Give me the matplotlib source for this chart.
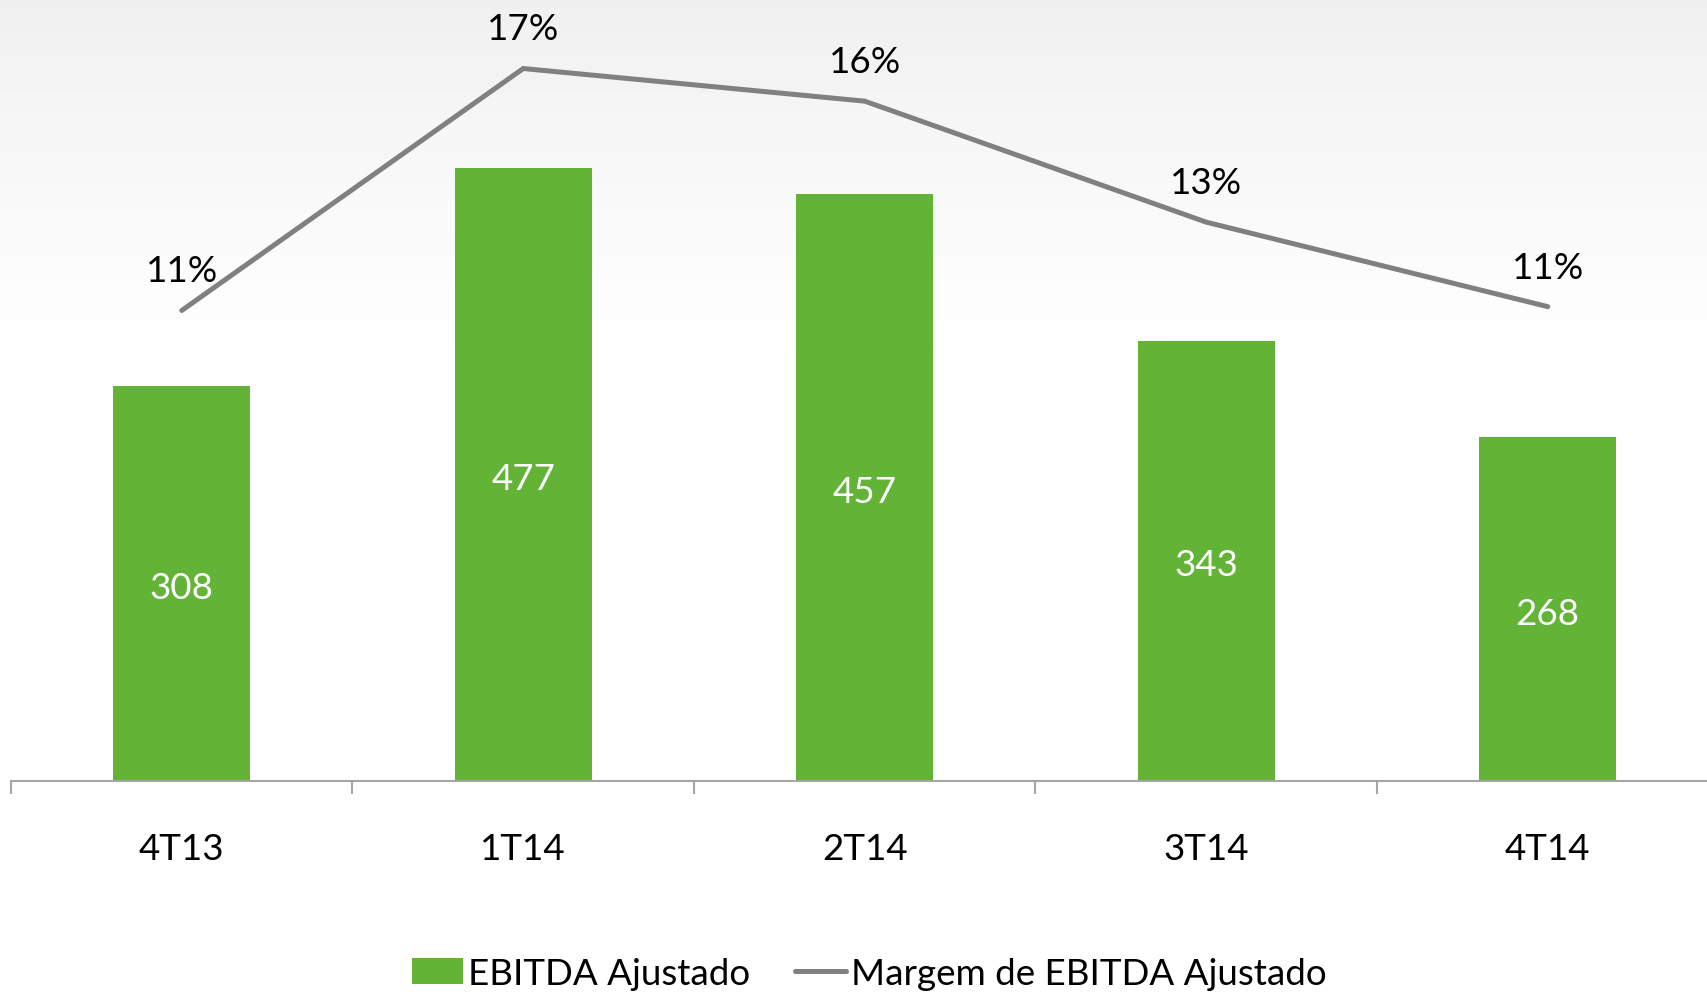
import matplotlib.pyplot as plt
import numpy as np

plt.rcParams['font.family'] = ['Lato', 'DejaVu Sans']

categorias = ["4T13", "1T14", "2T14", "3T14", "4T14"]
ebitda = [308, 477, 457, 343, 268]
margem = [10.7, 17.0, 16.15, 13.0, 10.8]
margem_txt = ["11%", "17%", "16%", "13%", "11%"]

verde = '#62B336'
cinza = '#808080'
fs = 26.5

fig = plt.figure(figsize=(17.08, 9.95), dpi=100)

# fundo com degradê cinza claro no topo
bg = fig.add_axes([0, 0, 1, 1], zorder=-10)
grad = np.ones((200, 1))
yy = np.linspace(0, 1, 200)
grad[:, 0] = 1 - 0.06 * np.clip(1 - (1 - yy) / 0.4, 0, 1) ** 1.3
bg.imshow(grad, cmap='gray', vmin=0, vmax=1, aspect='auto', extent=[0, 1, 0, 1], origin='lower')
bg.axis('off')

ax = fig.add_axes([11 / 1708, 213 / 995, 1707.5 / 1708, 782 / 995])
ax.set_facecolor('none')
x = np.arange(len(categorias))
barras = ax.bar(x, ebitda, width=0.4, color=verde, label='EBITDA Ajustado', zorder=2)
for xi, v in zip(x, ebitda):
    ax.annotate(str(v), (xi, v / 2), xytext=(0, -3), textcoords='offset points',
                ha='center', va='center', color='white', fontsize=fs, zorder=3)

ax.set_xlim(-0.5, 4.5)
ax.set_ylim(0, 609)
ax.set_yticks([])
for s in ['left', 'right', 'top']:
    ax.spines[s].set_visible(False)
ax.spines['bottom'].set_color('#A6A6A6')
ax.spines['bottom'].set_linewidth(1.5)
ax.set_xticks(x)
ax.set_xticklabels(categorias, fontsize=fs)
ax.tick_params(axis='x', which='major', length=0, pad=37)
ax.set_xticks(np.arange(-0.5, 5, 1), minor=True)
ax.tick_params(axis='x', which='minor', length=9.4, width=1.5, color='#A6A6A6', direction='out')

ax2 = ax.twinx()
ax2.set_ylim(-1.55, 18.81)
ax2.axis('off')
linha, = ax2.plot(x, margem, color=cinza, lw=3.6, solid_capstyle='round',
                  solid_joinstyle='miter', label='Margem de EBITDA Ajustado', zorder=4)
for xi, v, t in zip(x, margem, margem_txt):
    ax2.annotate(t, (xi, v), xytext=(0, 28.5), textcoords='offset points',
                 ha='center', va='center', fontsize=fs, color='black')

fig.legend(handles=[barras, linha], loc='center', bbox_to_anchor=(0.509, 0.021),
           ncol=2, frameon=False, fontsize=fs, handlelength=1.39, handletextpad=0.15,
           columnspacing=1.2, borderpad=0)

fig.savefig('out.png', dpi=100)
